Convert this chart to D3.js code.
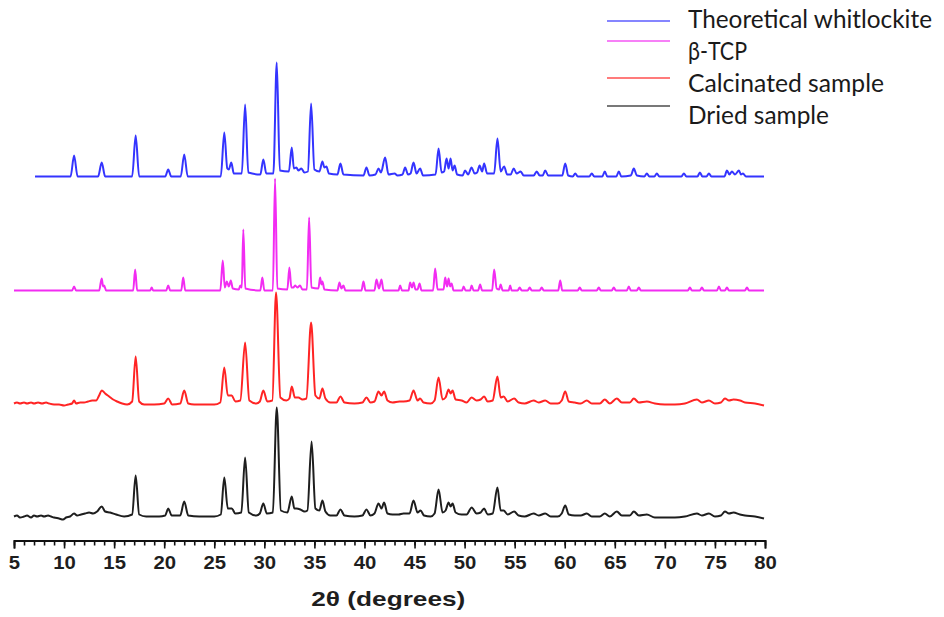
<!DOCTYPE html>
<html>
<head>
<meta charset="utf-8">
<script src="https://cdn.jsdelivr.net/npm/d3@7"></script>
<style>
    body { margin: 0; background: #fff; }
    svg { display: block; }
</style>
</head>
<body>
<div id="chart"></div>
<script>
/**
 *  XRD patterns, stacked. Values are [2theta, relative intensity].
 */
var seriesNames = ['Theoretical whitlockite', 'β-TCP', 'Calcinated sample', 'Dried sample'];
var seriesColors = ['#3434ff', '#f22cf2', '#ff2424', '#1e1e1e'];
var stackOffsets = [364, 250, 137, 24];
var xTicks = [5, 10, 15, 20, 25, 30, 35, 40, 45, 50, 55, 60, 65, 70, 75, 80];

var whitlockite = [[7.1,0],[10.65,0],[11.0,21],[11.35,0],[13.4,0],[13.76,14],[14.1,0],[16.8,0],[17.15,41],[17.5,0],
    [20.1,0],[20.4,7],[20.7,0],[21.65,0],[22.0,22],[22.35,0],[25.65,0],[26.0,44],[26.3,8],[26.45,7],[26.7,14],[26.95,3],
    [27.75,3],[28.08,72],[28.4,4],[29.6,2],[29.9,17],[30.2,3],[30.9,3],[31.24,114],[31.55,6],[32.45,5],[32.74,29],[32.95,8],
    [33.2,9],[33.4,6],[33.7,8],[34.0,4],[34.35,5],[34.67,73],[35.0,7],[35.5,5],[35.8,15],[36.0,9],[36.2,10],[36.45,3],
    [37.3,2],[37.6,13],[37.9,2],[39.9,1],[40.2,9],[40.5,1],[41.1,2],[41.4,8],[41.65,4],[42.06,19],[42.4,2],[43.0,3],[43.3,1],
    [43.8,2],[44.06,9],[44.35,2],[44.6,3],[44.9,14],[45.2,3],[45.56,8],[45.85,1],[47.1,2],[47.4,28],[47.7,4],[47.95,5],
    [48.2,18],[48.4,8],[48.6,18],[48.8,6],[49.0,11],[49.25,2],[49.8,1],[50.05,6],[50.35,2],[50.7,9],[51.0,3],[51.25,4],
    [51.5,11],[51.75,5],[51.95,13],[52.25,3],[52.95,3],[53.28,38],[53.6,5],[53.95,10],[54.25,2],[54.6,2],[54.9,8],[55.2,3],
    [55.6,5],[55.9,1],[56.9,1],[57.2,5],[57.5,1],[57.8,1],[58.05,6],[58.35,1],[59.75,1],[60.05,13],[60.35,1],[60.8,0],
    [61.05,3],[61.3,0],[62.45,0],[62.7,3],[62.95,0],[63.75,0],[64.0,5],[64.25,0],[65.15,0],[65.4,5],[65.65,0],[66.6,1],
    [66.9,8],[67.2,1],[67.95,0],[68.2,3],[68.45,0],[68.95,0],[69.2,3],[69.45,0],[71.65,0],[71.9,3],[72.15,0],[73.25,0],
    [73.5,4],[73.75,0],[74.15,0],[74.4,3],[74.65,0],[75.95,0],[76.2,6],[76.45,2],[76.7,5],[77.0,2],[77.4,6],[77.6,2],
    [77.8,3],[78.1,0],[79.9,0]];

var betaTCP = [[5,0],[10.8,0],[11.0,4],[11.2,0],[13.5,0],[13.76,12],[13.9,4],[14.0,5],[14.2,0],[16.9,0],[17.1,21],[17.3,0],
    [18.6,0],[18.75,3],[18.9,0],[20.2,0],[20.4,5],[20.6,0],[21.7,0],[21.9,13],[22.1,0],[25.6,0],[25.85,30],[26.05,3],
    [26.25,9],[26.45,4],[26.65,10],[26.85,2],[27.45,1],[27.6,5],[27.75,3],[27.9,61],[28.1,2],[29.6,0],[29.8,13],[30.0,0],
    [30.85,0],[31.07,112],[31.3,2],[32.3,1],[32.5,23],[32.7,3],[32.9,3],[33.07,5],[33.3,3],[33.57,5],[33.8,1],[34.25,1],
    [34.47,73],[34.7,3],[35.4,2],[35.57,13],[35.7,6],[35.8,9],[36.0,1],[37.3,0],[37.5,8],[37.7,2],[37.9,5],[38.1,0],
    [39.7,0],[39.9,9],[40.1,0],[41.0,0],[41.2,11],[41.45,2],[41.7,11],[41.9,0],[43.4,0],[43.56,5],[43.75,0],[44.4,0],
    [44.56,8],[44.75,3],[44.9,8],[45.1,1],[45.3,1],[45.5,7],[45.7,0],[46.85,0],[47.06,22],[47.3,1],[47.9,1],[48.06,13],
    [48.25,4],[48.4,12],[48.55,4],[48.7,7],[48.9,0],[49.75,0],[49.9,4],[50.1,0],[50.55,0],[50.7,5],[50.9,0],[51.35,0],
    [51.55,6],[51.75,0],[52.75,0],[52.95,21],[53.2,2],[53.45,1],[53.6,6],[53.8,0],[54.4,0],[54.55,5],[54.7,0],[55.3,0],
    [55.5,3],[55.7,0],[56.3,0],[56.5,3],[56.7,0],[57.5,0],[57.7,3],[57.9,0],[59.35,0],[59.55,10],[59.75,0],[61.3,0],
    [61.5,3],[61.7,0],[63.2,0],[63.4,3],[63.6,0],[64.7,0],[64.9,3],[65.1,0],[66.2,0],[66.4,4],[66.6,0],[67.2,0],[67.4,3],
    [67.6,0],[72.3,0],[72.5,3],[72.7,0],[73.5,0],[73.7,3],[73.9,0],[75.2,0],[75.4,4],[75.6,0],[76.0,0],[76.2,3],[76.4,0],
    [78.0,0],[78.2,3],[78.4,0],[79.9,0]];

var calcinated = [[5,0],[5.3,1],[5.6,0],[6,1],[6.3,0],[6.7,1],[7,0],[7.4,1],[7.8,0],[8.2,1],[8.5,0],[9,-1],[9.5,-1],
    [10,-2],[10.4,-1],[10.8,0],[11.0,3],[11.2,0],[11.6,1],[12,1],[12.4,2],[12.8,3],[13.2,3],[13.5,8],[13.76,13],[14.1,10],
    [14.5,7],[14.9,4],[15.3,2],[15.8,0],[16.3,-1],[16.8,2],[17.15,47],[17.5,2],[18,-1],[19,-1],[20,0],[20.4,5],[20.8,-1],
    [21.6,0],[22.0,13],[22.4,0],[23,-1],[24,-1],[25,-1],[25.6,1],[26.0,36],[26.35,8],[26.75,8],[27.1,2],[27.6,3],
    [28.08,61],[28.5,3],[29.2,0],[29.55,2],[29.9,13],[30.3,2],[30.8,3],[31.17,111],[31.6,6],[32.2,3],[32.5,5],[32.74,17],
    [33.05,6],[33.4,6],[33.8,4],[34.2,5],[34.67,81],[35.1,8],[35.5,5],[35.8,15],[36.1,5],[36.6,1],[37.2,1],[37.6,7],
    [38.0,1],[39,0],[39.8,1],[40.2,6],[40.6,1],[41.0,2],[41.4,12],[41.7,8],[41.96,12],[42.3,3],[42.8,1],[43.5,2],[43.9,2],
    [44.5,3],[44.9,13],[45.3,3],[45.56,5],[45.9,1],[46.6,0],[47.0,3],[47.4,26],[47.8,4],[48.1,6],[48.4,14],[48.6,10],
    [48.8,13],[49.1,4],[49.7,3],[50.2,1],[50.7,6],[51.2,3],[51.6,4],[51.95,7],[52.3,2],[52.8,3],[53.28,27],[53.6,6],
    [53.9,7],[54.3,2],[54.95,5],[55.4,1],[56.0,0],[56.9,3],[57.4,1],[58.05,3],[58.6,0],[59.3,0],[59.7,3],[60.05,12],
    [60.4,2],[61.0,1],[61.6,0],[62.2,3],[62.7,0],[63.5,0],[64.0,4],[64.5,0],[65.2,5],[65.7,1],[66.5,1],[66.9,5],[67.4,1],
    [68.2,2],[69.0,0],[70,-1],[71,-1],[72,0],[73.2,4],[73.7,1],[74.4,3],[75.0,0],[75.6,1],[76.0,5],[76.4,3],[76.85,4],
    [77.5,3],[78.0,1],[79.0,0],[79.9,-2]];

var dried = [[5,0],[5.3,1],[5.6,-1],[6,0],[6.3,1],[6.7,-1],[7,1],[7.3,0],[7.7,1],[8,0],[8.4,1],[8.7,0],[9,-1],[9.5,-2],
    [9.9,-3],[10.2,-1],[10.6,0],[11.0,3],[11.3,1],[11.7,2],[12.1,3],[12.5,4],[12.9,3],[13.3,5],[13.76,10],[14.1,5],
    [14.6,4],[15.2,2],[16.0,0],[16.8,2],[17.15,41],[17.5,2],[18.2,0],[19.5,0],[20.1,1],[20.4,8],[20.75,1],[21.6,1],
    [22.0,15],[22.4,1],[23.5,0],[25.0,0],[25.65,2],[26.0,39],[26.35,8],[26.75,8],[27.1,3],[27.7,4],[28.08,59],[28.45,4],
    [29.2,1],[29.55,3],[29.9,13],[30.25,3],[30.85,4],[31.24,109],[31.65,6],[32.3,4],[32.74,20],[33.0,8],[33.2,8],[33.6,7],
    [34.0,5],[34.3,6],[34.72,75],[35.1,8],[35.5,6],[35.8,16],[36.1,5],[36.6,1],[37.2,1],[37.6,7],[38.0,1],[39.0,0],
    [39.8,1],[40.2,7],[40.6,1],[41.0,3],[41.4,13],[41.7,8],[41.96,14],[42.3,3],[42.8,2],[43.4,2],[43.9,3],[44.5,3],
    [44.9,16],[45.3,4],[45.6,6],[45.95,1],[46.6,0],[47.0,3],[47.4,27],[47.8,4],[48.1,6],[48.4,14],[48.6,10],[48.8,13],
    [49.1,4],[49.7,2],[50.2,2],[50.7,9],[51.2,3],[51.6,4],[51.95,8],[52.3,2],[52.8,3],[53.28,29],[53.6,6],[53.9,6],
    [54.3,2],[54.95,5],[55.4,1],[56.0,0],[56.9,3],[57.4,1],[58.05,3],[58.6,0],[59.3,0],[59.7,3],[60.05,11],[60.4,2],
    [61.0,1],[61.6,1],[62.2,3],[62.7,0],[63.5,0],[64.0,3],[64.5,0],[65.2,5],[65.7,1],[66.5,1],[66.9,5],[67.4,1],[68.2,2],
    [69.0,-1],[70,-1],[71,-1],[72,0],[73.2,3],[73.7,1],[74.4,3],[75.0,0],[75.6,1],[76.0,5],[76.4,3],[76.85,4],[77.5,2],
    [78.0,1],[79.0,0],[79.9,-2]];

var seriesData = [whitlockite, betaTCP, calcinated, dried];

var w = 944, h = 617;
var axisY = 540.5;

var svg = d3.select('#chart')
    .append('svg')
    .attr('width', w)
    .attr('height', h);

var x = d3.scaleLinear().domain([5, 80]).range([14, 765]);
var y = d3.scaleLinear().domain([0, 480]).range([axisY, axisY - 480]);

// traces
seriesData.forEach(function (data, i) {
    var line = d3.line()
        .x(function (d) { return x(d[0]); })
        .y(function (d) { return y(d[1] + stackOffsets[i]); })
        .curve(d3.curveMonotoneX);
    svg.append('path')
        .datum(data)
        .attr('fill', 'none')
        .attr('stroke', seriesColors[i])
        .attr('stroke-width', 2)
        .attr('stroke-linejoin', 'round')
        .attr('d', line);
});

// x axis - minor ticks every degree, majors every 5
svg.append('g')
    .attr('transform', 'translate(0,' + axisY + ')')
    .call(d3.axisBottom(x).tickValues(d3.range(5, 81, 1)).tickSize(5).tickSizeOuter(0).tickFormat(''))
    .call(function (g) { g.select('.domain').remove(); })
    .selectAll('line').attr('stroke', '#111').attr('stroke-width', 1.6);

var xAxis = svg.append('g')
    .attr('transform', 'translate(0,' + axisY + ')')
    .call(d3.axisBottom(x).tickValues(xTicks).tickSize(8).tickSizeOuter(8).tickPadding(8).tickFormat(d3.format('d')));

xAxis.select('.domain').attr('stroke', '#111').attr('stroke-width', 1.8);
xAxis.selectAll('.tick line').attr('stroke', '#111').attr('stroke-width', 1.6);
xAxis.selectAll('.tick text')
    .attr('fill', '#1e1e1e')
    .style('font-family', '"Liberation Sans", Arial, sans-serif')
    .style('font-weight', 'bold')
    .style('font-size', '17.5px')
    .each(function () {
        var len = this.getComputedTextLength();
        d3.select(this).attr('textLength', len * 1.16).attr('lengthAdjust', 'spacingAndGlyphs');
    });

svg.append('text')
    .attr('x', 388.3)
    .attr('y', 606)
    .attr('text-anchor', 'middle')
    .attr('fill', '#1e1e1e')
    .attr('textLength', 154)
    .attr('lengthAdjust', 'spacingAndGlyphs')
    .style('font-family', '"Liberation Sans", Arial, sans-serif')
    .style('font-weight', 'bold')
    .style('font-size', '20.5px')
    .text('2θ (degrees)');

// legend
var legendLineY = [21, 41, 78, 106];
var legendTextW = [244, 59, 196, 141];
var legend = svg.append('g');
seriesNames.forEach(function (name, i) {
    legend.append('line')
        .attr('x1', 607).attr('x2', 670)
        .attr('y1', legendLineY[i]).attr('y2', legendLineY[i])
        .attr('stroke', seriesColors[i])
        .attr('stroke-opacity', 0.8)
        .attr('stroke-width', 1.6);
    legend.append('text')
        .attr('x', 688)
        .attr('y', 27.5 + i * 32)
        .attr('fill', '#1a1a1a')
        .attr('textLength', legendTextW[i])
        .attr('lengthAdjust', 'spacingAndGlyphs')
        .style('font-family', 'Lato, "Open Sans", sans-serif')
        .style('font-size', '25px')
        .text(name);
});
</script>
</body>
</html>
